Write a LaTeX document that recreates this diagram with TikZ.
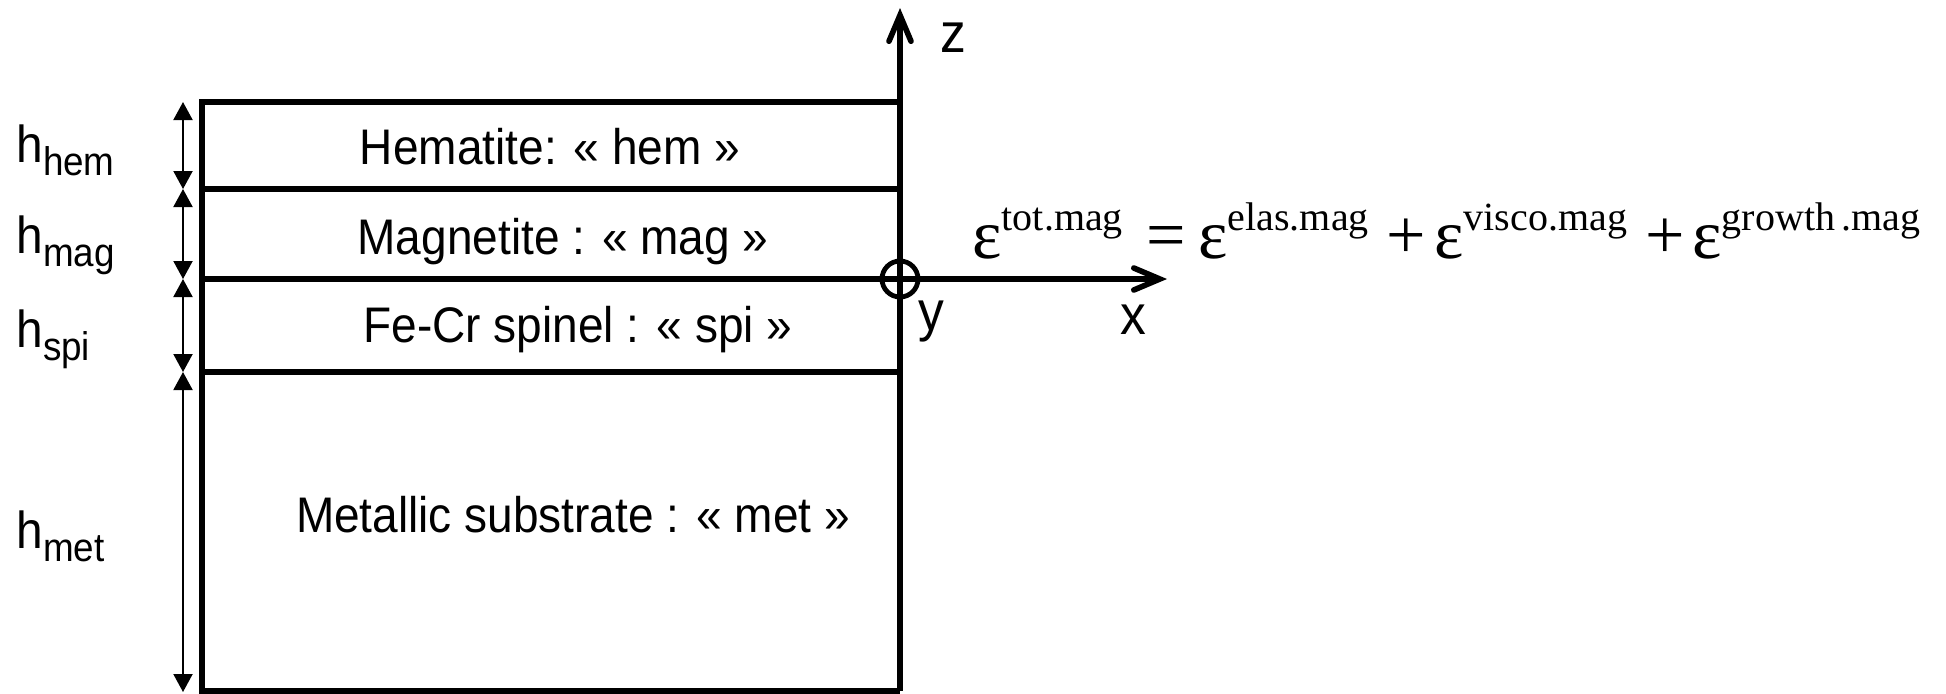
\documentclass[tikz,border=0pt]{standalone}
\usepackage{fontspec}
\setmainfont{Liberation Sans}[FakeStretch=0.92]
\newfontfamily\eqf{Liberation Serif}
\usetikzlibrary{arrows.meta}
\newcommand\hlab[1]{h\raisebox{-6.5pt}{\fontsize{20pt}{20pt}\selectfont #1}}
\newcommand\epsup[1]{ε\raisebox{14pt}{\fontsize{20pt}{20pt}\selectfont #1}}
\tikzset{
  layer/.style={line width=3pt},
  axis/.style={line width=2.8pt,-{Straight Barb[length=13pt,width=11pt,line width=2.8pt,line cap=round]}},
  dim/.style={line width=1pt,{Triangle[length=9pt,width=9.5pt]}-{Triangle[length=9pt,width=9.5pt]}},
  txt/.style={inner sep=0pt,anchor=base,font=\fontsize{25pt}{30pt}\selectfont},
  axl/.style={inner sep=0pt,anchor=base,font=\fontsize{28pt}{30pt}\selectfont},
  hl/.style={inner sep=0pt,anchor=base west,font=\fontsize{26pt}{30pt}\selectfont},
}
\begin{document}
\begin{tikzpicture}[x=0.5pt,y=-0.5pt]
\useasboundingbox (0,0) rectangle (1946,693);
% layer corners
\coordinate (L0) at (202,102); \coordinate (R0) at (900,102);
\coordinate (L1) at (202,189); \coordinate (R1) at (900,189);
\coordinate (L2) at (202,279); \coordinate (R2) at (900,279);
\coordinate (L3) at (202,372); \coordinate (R3) at (900,372);
\coordinate (L4) at (202,691); \coordinate (R4) at (900,691);
\coordinate (ztip) at (900,8);
\coordinate (xtip) at (1167,279);
\draw[layer] (R0) -- (L0) -- (L4) -- (R4);
\draw[layer] (L1) -- (R1);
\draw[layer] (L2) -- (R2);
\draw[layer] (L3) -- (R3);
% axes
\draw[axis] (R4) -- (ztip);
\draw[axis] (R2) -- (xtip);
\draw[line width=2.4pt] (R2) circle[radius=18];
% dimension arrows
\coordinate (d0) at (183,102);
\coordinate (d1) at (183,189);
\coordinate (d2) at (183,279);
\coordinate (d3) at (183,372);
\coordinate (d4) at (183,692);
\draw[dim] (d0) -- (d1);
\draw[dim] (d1) -- (d2);
\draw[dim] (d2) -- (d3);
\draw[dim] (d3) -- (d4);
% labels
\node[hl] (hhem) at (16,162) {\hlab{hem}};
\node[hl] (hmag) at (16,253) {\hlab{mag}};
\node[hl] (hspi) at (16,347) {\hlab{spi}};
\node[hl] (hmet) at (16,548) {\hlab{met}};
\node[txt] (hem) at (550,164) {Hematite: « hem »};
\node[txt] (mag) at (563,254) {Magnetite : « mag »};
\node[txt] (spi) at (578,342) {Fe-Cr spinel : « spi »};
\node[txt] (met) at (573,532) {Metallic substrate : « met »};
\node[axl] (zl) at (953,52) {z};
\node[axl] (yl) at (931,330) {y};
\node[axl] (xl) at (1133,334) {x};
\node[inner sep=0pt,anchor=base west] (eq) at (972,258) {\eqf\fontsize{35pt}{40pt}\selectfont
  \epsup{tot.mag}\hspace{12pt}=\hspace{6pt}\epsup{elas.mag}\hspace{9pt}+\hspace{4pt}\epsup{visco.mag}\hspace{9pt}+\hspace{4pt}\epsup{growth\,.mag}};
\end{tikzpicture}
\end{document}
